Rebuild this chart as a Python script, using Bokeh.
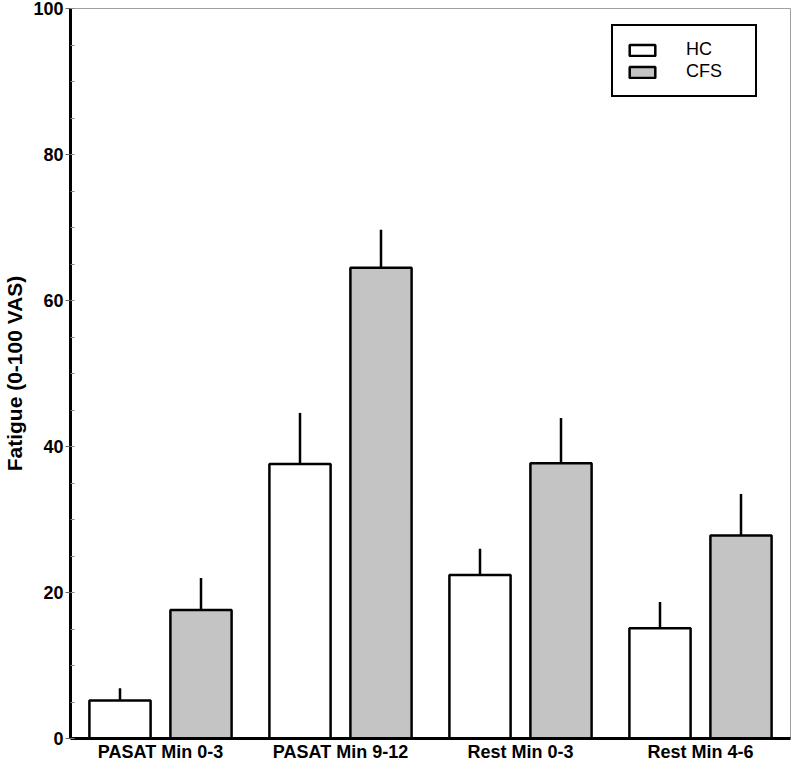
from bokeh.plotting import figure
from bokeh.models import (ColumnDataSource, FactorRange, Range1d, SingleIntervalTicker,
                          Legend, LegendItem)
from bokeh.transform import dodge
from bokeh.embed import file_html
from bokeh.resources import INLINE

categories = ["PASAT Min 0-3", "PASAT Min 9-12", "Rest Min 0-3", "Rest Min 4-6"]
hc_mean = [5.2, 37.6, 22.4, 15.1]
hc_err = [1.7, 7.0, 3.6, 3.6]
cfs_mean = [17.6, 64.5, 37.7, 27.8]
cfs_err = [4.4, 5.2, 6.2, 5.7]
y_label = "Fatigue (0-100 VAS)"
series_names = ["HC", "CFS"]

src = ColumnDataSource(dict(
    cat=categories,
    hc=hc_mean,
    hc_top=[m + e for m, e in zip(hc_mean, hc_err)],
    cfs=cfs_mean,
    cfs_top=[m + e for m, e in zip(cfs_mean, cfs_err)],
))

FONT = "Liberation Sans"

p = figure(width=792, height=764, x_range=FactorRange(factors=categories, range_padding=0),
           y_range=Range1d(0, 100), output_backend="svg", toolbar_location=None,
           min_border_left=0, min_border_right=2, min_border_top=8, min_border_bottom=0)
p.xgrid.grid_line_color = None
p.ygrid.grid_line_color = None
p.outline_line_color = "#a0a0a0"
p.outline_line_width = 1
p.background_fill_color = "white"
p.border_fill_color = "white"

off = 0.225
bw = 0.34

# error bars (upper only)
p.segment(x0=dodge("cat", -off, range=p.x_range), x1=dodge("cat", -off, range=p.x_range),
          y0="hc", y1="hc_top", source=src, line_color="black", line_width=2.5)
p.segment(x0=dodge("cat", off, range=p.x_range), x1=dodge("cat", off, range=p.x_range),
          y0="cfs", y1="cfs_top", source=src, line_color="black", line_width=2.5)

r_hc = p.vbar(x=dodge("cat", -off, range=p.x_range), top="hc", width=bw, source=src,
              fill_color="white", line_color="black", line_width=2.5)
r_cfs = p.vbar(x=dodge("cat", off, range=p.x_range), top="cfs", width=bw, source=src,
               fill_color="#c4c4c4", line_color="black", line_width=2.5)

# y axis
ya = p.yaxis[0]
ya.ticker = SingleIntervalTicker(interval=20, num_minor_ticks=4)
ya.axis_line_width = 3
ya.axis_line_color = "black"
ya.major_tick_out = 5
ya.major_tick_in = 0
ya.major_tick_line_color = "#666666"
ya.minor_tick_in = 4
ya.minor_tick_out = 0
ya.minor_tick_line_color = "#888888"
ya.major_label_text_font = FONT
ya.major_label_text_font_style = "bold"
ya.major_label_text_font_size = "18px"
ya.major_label_text_color = "black"
ya.major_label_standoff = 2
ya.axis_label = y_label
ya.axis_label_text_font = FONT
ya.axis_label_text_font_style = "bold"
ya.axis_label_text_font_size = "21px"
ya.axis_label_text_color = "black"
ya.axis_label_standoff = 4

# x axis
xa = p.xaxis[0]
xa.axis_line_width = 3
xa.axis_line_color = "black"
xa.major_tick_line_color = None
xa.minor_tick_line_color = None
xa.major_tick_out = 0
xa.major_tick_in = 0
xa.major_label_text_font = FONT
xa.major_label_text_font_style = "bold"
xa.major_label_text_font_size = "18px"
xa.major_label_text_color = "black"
xa.major_label_standoff = 3

legend = Legend(items=[LegendItem(label=series_names[0], renderers=[r_hc]),
                       LegendItem(label=series_names[1], renderers=[r_cfs])],
                location=(541, 641))
legend.border_line_color = "black"
legend.border_line_width = 2
legend.border_line_alpha = 1
legend.background_fill_color = "white"
legend.background_fill_alpha = 1
legend.label_text_font = FONT
legend.label_text_font_size = "18px"
legend.label_text_color = "black"
legend.glyph_width = 32
legend.glyph_height = 14
legend.label_height = 20
legend.label_width = 56
legend.label_standoff = 28
legend.padding = 13
legend.spacing = 1
legend.margin = 0
p.add_layout(legend)

open("out.html", "w").write(file_html(p, INLINE))
